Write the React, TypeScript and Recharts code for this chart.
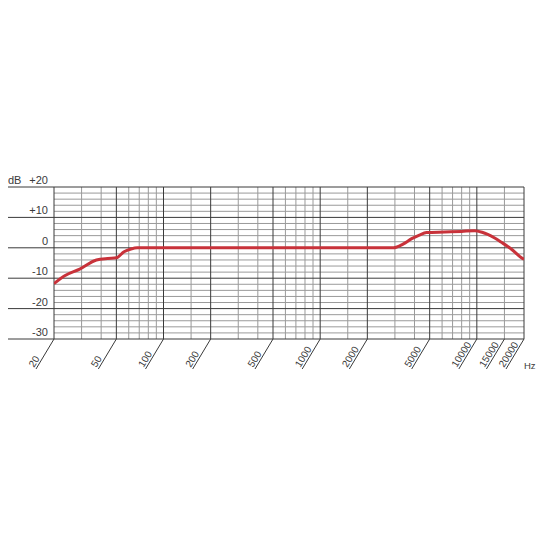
import { LineChart, Line, XAxis, YAxis, CartesianGrid } from 'recharts';

// Frequency response curve (Hz / dB)
const FREQS = [20, 23.4, 29.2, 37.3, 44, 50, 56, 62, 68, 100, 1000, 2940, 3400, 3840, 4300, 4775, 6250, 8000, 9670, 10800, 11740, 13000, 14250, 16490, 19070, 20000];
const LEVELS = [-11.8, -9.2, -7.0, -4.0, -3.5, -3.3, -1.3, -0.4, 0, 0, 0, 0, 1.3, 3.0, 4.2, 5.0, 5.2, 5.4, 5.6, 5.1, 4.4, 3.2, 1.9, -0.3, -3.1, -3.8];

// Axis ticks and grid values
const X_LABELS = [20, 50, 100, 200, 500, 1000, 2000, 5000, 10000, 15000, 20000];
const V_MAJOR = [20, 50, 100, 200, 500, 1000, 2000, 5000, 10000, 20000];
const V_MINOR = [30, 40, 60, 70, 80, 90, 150, 300, 400, 600, 700, 800, 900, 1500, 3000, 4000, 6000, 7000, 8000, 9000, 15000];
const Y_MAJOR = [-30, -20, -10, 0, 10, 20];
const Y_MINOR = [-28, -26, -24, -22, -18, -16, -14, -12, -8, -6, -4, -2, 2, 4, 6, 8, 12, 14, 16, 18];

const data = FREQS.map((f, i) => ({ f, db: LEVELS[i] }));

const W = 540;
const H = 540;
const LEFT_EDGE = 8;
const PLOT_LEFT = 54;
const PLOT_TOP = 187;
const PLOT_BOTTOM = 339;
const PLOT_RIGHT = 524;

const INK = '#3a3a3a';
const MINOR = '#9a9a9a';
const FONT = 'Liberation Sans, Arial, sans-serif';

function YTick(props: any) {
  const { y, payload } = props;
  const v = payload.value as number;
  const label = v > 0 ? `+${v}` : `${v}`;
  return (
    <g>
      <line x1={LEFT_EDGE} y1={y} x2={PLOT_LEFT} y2={y} stroke={INK} strokeWidth={1} />
      {v === 20 && (
        <text x={LEFT_EDGE} y={y - 3} fontSize={11} fill={INK} fontFamily={FONT}>
          dB
        </text>
      )}
      <text x={48} y={y - 3} fontSize={11} fill={INK} fontFamily={FONT} textAnchor="end">
        {label}
      </text>
    </g>
  );
}

function XTick(props: any) {
  const { x, payload } = props;
  const tx = x - 20;
  const ty = PLOT_BOTTOM + 29;
  return (
    <g>
      <line x1={x} y1={PLOT_BOTTOM} x2={x - 18} y2={PLOT_BOTTOM + 30} stroke={INK} strokeWidth={1} />
      <text
        transform={`translate(${tx},${ty}) rotate(-58)`}
        fontSize={10}
        fill={INK}
        fontFamily={FONT}
      >
        {payload.value}
      </text>
    </g>
  );
}

export default function App() {
  return (
    <div style={{ position: 'absolute', left: 0, top: 0, width: W, height: H, background: '#fff' }}>
      <LineChart
        width={W}
        height={H}
        data={data}
        margin={{ top: PLOT_TOP, right: W - PLOT_RIGHT, bottom: H - PLOT_BOTTOM - 50, left: 0 }}
      >
        <CartesianGrid
          verticalValues={V_MINOR}
          horizontalValues={Y_MINOR}
          stroke={MINOR}
          strokeWidth={1}
        />
        <CartesianGrid
          verticalValues={V_MAJOR}
          horizontalValues={Y_MAJOR}
          stroke={INK}
          strokeWidth={1}
        />
        <XAxis
          dataKey="f"
          type="number"
          scale="log"
          domain={[20, 20000]}
          ticks={X_LABELS}
          interval={0}
          allowDataOverflow
          axisLine={false}
          tickLine={false}
          height={50}
          tick={<XTick />}
        />
        <YAxis
          type="number"
          domain={[-30, 20]}
          ticks={Y_MAJOR}
          interval={0}
          allowDataOverflow
          axisLine={false}
          tickLine={false}
          width={PLOT_LEFT}
          tick={<YTick />}
        />
        <Line
          dataKey="db"
          type="monotone"
          stroke="#c8323a"
          strokeWidth={3}
          dot={false}
          isAnimationActive={false}
        />
      </LineChart>
      <div
        style={{
          position: 'absolute',
          left: 524,
          top: 360,
          fontSize: 9.5,
          fontFamily: FONT,
          color: INK,
        }}
      >
        Hz
      </div>
    </div>
  );
}
